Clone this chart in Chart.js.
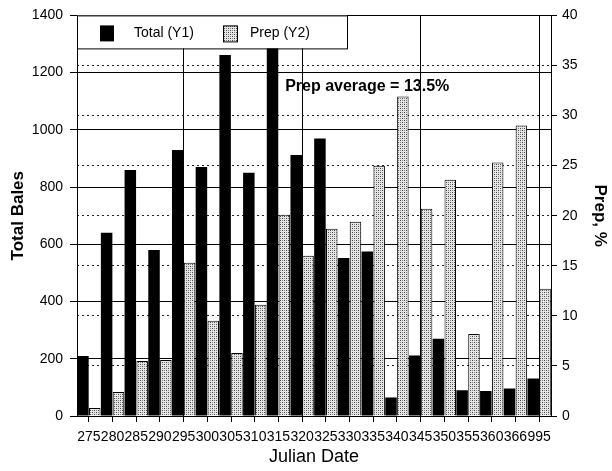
<!DOCTYPE html>
<html>
<head>
<meta charset="utf-8">
<script src="https://cdn.jsdelivr.net/npm/chart.js@4.4.1/dist/chart.umd.min.js"></script>
<style>
  html, body { margin: 0; padding: 0; background: #fff; }
  #wrap { width: 612px; height: 471px; }
</style>
</head>
<body>
<div id="wrap"><canvas id="chart" width="612" height="471"></canvas></div>
<script>
const dates = ["275", "280", "285", "290", "295", "300", "305", "310", "315", "320",
               "325", "330", "335", "340", "345", "350", "355", "360", "366", "995"]
const totalBales = [210, 640, 860, 580, 930, 870, 1262, 850, 1295, 912,
                    970, 552, 575, 65, 211, 270, 90, 87, 96, 131]
const prepPct = [0.8, 2.4, 5.5, 5.6, 15.3, 9.5, 6.3, 11.1, 20.1, 16.0,
                 18.7, 19.4, 25.0, 31.9, 20.7, 23.6, 8.2, 25.3, 29.0, 12.7]
const prepAverageNote = "Prep average = 13.5%"

const FONT = "'Liberation Sans', Arial, sans-serif"
const CLEAR = "rgba(0,0,0,0)"

// stippled fill for the Prep bars
function stipple() {
  const c = document.createElement("canvas")
  c.width = 4
  c.height = 4
  const g = c.getContext("2d")
  g.fillStyle = "#e6e6e6"
  g.fillRect(0, 0, 4, 4)
  g.fillStyle = "#444"
  g.fillRect(0, 0, 1, 1)
  g.fillRect(2, 2, 1, 1)
  g.fillStyle = "#888"
  g.fillRect(2, 0, 1, 1)
  g.fillRect(0, 2, 1, 1)
  return document.getElementById("chart").getContext("2d").createPattern(c, "repeat")
}
const prepFill = stipple()

const boxLegend = {
  id: "boxLegend",
  afterDraw(chart) {
    const { ctx, chartArea } = chart
    const x = chartArea.left, y = chartArea.top
    ctx.save()
    ctx.fillStyle = "#fff"
    ctx.fillRect(x, y, 270, 33)
    ctx.strokeStyle = "#000"
    ctx.lineWidth = 1
    ctx.strokeRect(x + 0.5, y + 0.5, 270, 33)

    ctx.fillStyle = "#000"
    ctx.fillRect(x + 23, y + 10, 14, 16)
    ctx.fillStyle = prepFill
    ctx.fillRect(x + 146, y + 10, 14, 16)
    ctx.strokeRect(x + 146.5, y + 10.5, 14, 16)

    ctx.fillStyle = "#000"
    ctx.font = `14px ${FONT}`
    ctx.textBaseline = "middle"
    ctx.fillText("Total (Y1)", x + 57, y + 18)
    ctx.fillText("Prep (Y2)", x + 173, y + 18)
    ctx.restore()
  }
}

const averageNote = {
  id: "averageNote",
  afterDatasetsDraw(chart) {
    const { ctx, scales } = chart
    ctx.save()
    ctx.fillStyle = "#000"
    ctx.font = `bold 16px ${FONT}`
    ctx.textBaseline = "middle"
    ctx.fillText(prepAverageNote, scales.x.getPixelForValue(9) - 17, scales.y.getPixelForValue(1150))
    ctx.restore()
  }
}

new Chart(document.getElementById("chart"), {
  type: "bar",
  data: {
    labels: dates,
    datasets: [
      {
        label: "Total (Y1)",
        data: totalBales,
        yAxisID: "y",
        backgroundColor: "#000",
        borderColor: "#000",
        borderWidth: 0,
        categoryPercentage: 1.0,
        barPercentage: 0.97
      },
      {
        label: "Prep (Y2)",
        data: prepPct,
        yAxisID: "y2",
        backgroundColor: prepFill,
        borderColor: "#000",
        borderWidth: 1,
        categoryPercentage: 1.0,
        barPercentage: 0.97
      }
    ]
  },
  options: {
    responsive: false,
    animation: false,
    devicePixelRatio: 1,
    layout: { padding: { top: 12, left: 0, right: 0, bottom: 0 } },
    plugins: {
      legend: { display: false },
      tooltip: { enabled: false }
    },
    scales: {
      x: {
        offset: true,
        afterFit: (s) => { s.height = 55 },
        grid: {
          offset: false,
          drawOnChartArea: true,
          // major lines every fifth date
          color: (c) => (c.index % 5 === 4 ? "#000" : CLEAR),
          tickColor: "#000",
          tickLength: 6
        },
        border: { display: true, color: "#000", width: 1 },
        ticks: {
          autoSkip: false,
          maxRotation: 0,
          minRotation: 0,
          padding: 7,
          color: "#000",
          font: { family: FONT, size: 14 }
        },
        title: {
          display: true,
          text: "Julian Date",
          color: "#000",
          font: { family: FONT, size: 18 },
          padding: { top: 0, bottom: 3 }
        }
      },
      y: {
        position: "left",
        min: 0,
        max: 1400,
        afterFit: (s) => { s.width = 77 },
        grid: {
          color: (c) => (c.tick && c.tick.value === 0 ? CLEAR : "#000"),
          tickColor: "#000",
          tickLength: 7
        },
        border: { display: true, color: "#000", width: 1 },
        ticks: {
          stepSize: 200,
          padding: 7,
          color: "#000",
          font: { family: FONT, size: 14 },
          callback: (v) => String(v)
        },
        title: {
          display: true,
          text: "Total Bales",
          color: "#000",
          font: { family: FONT, size: 17, weight: "bold" },
          padding: { top: 8, bottom: 0 }
        }
      },
      y2: {
        position: "right",
        min: 0,
        max: 40,
        afterFit: (s) => { s.width = 61 },
        grid: {
          color: (c) => (c.tick && (c.tick.value === 0 || c.tick.value === 40) ? CLEAR : "#222"),
          tickColor: "#000",
          tickLength: 6
        },
        border: { display: true, color: "#000", width: 1, dash: [2, 3] },
        ticks: {
          stepSize: 5,
          padding: 5,
          color: "#000",
          font: { family: FONT, size: 14 },
          callback: (v) => String(v)
        },
        title: {
          display: true,
          text: "Prep, %",
          color: "#000",
          font: { family: FONT, size: 17, weight: "bold" },
          padding: { top: 2, bottom: 0 }
        }
      }
    }
  },
  plugins: [averageNote, boxLegend]
})
</script>
</body>
</html>
